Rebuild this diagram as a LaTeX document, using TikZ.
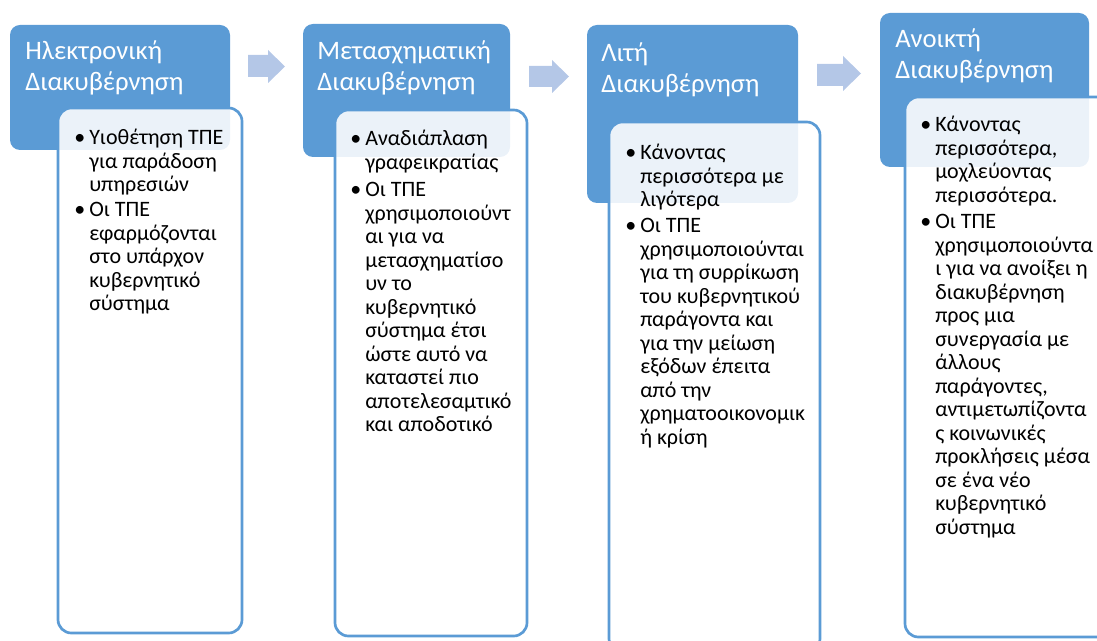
\documentclass[tikz,border=0pt]{standalone}
\usepackage{fontspec}
\setmainfont{Carlito}
\usepackage{tikz}
\definecolor{headblue}{RGB}{91,155,213}
\definecolor{arrowblue}{RGB}{180,199,231}
\newcommand{\colines}[1]{\begin{tabular}[t]{@{}l@{}}#1\end{tabular}}
\tikzset{
	headbox/.style={fill=headblue,rounded corners=7.5pt},
	bodybox/.style={draw=headblue,line width=2pt,fill=white,fill opacity=0.88,rounded corners=10pt},
	headtext/.style={anchor=base west,inner sep=0pt,text=white,font=\fontsize{20}{23}\selectfont},
	bodytext/.style={anchor=base west,inner sep=0pt,font=\fontsize{16.5}{17.6}\selectfont},
	bul/.style={anchor=base west,inner sep=0pt,font=\fontsize{16.5}{17.6}\selectfont},
	blockarrow/.style={fill=arrowblue}
}

\begin{document}
\begin{tikzpicture}[x=0.75pt,y=-0.75pt]
			\useasboundingbox (0,0) rectangle (1097,641);
			\clip (0,0) rectangle (1097,641);
			% headers
			\fill [headbox] (10,25) rectangle (230,150);
			\fill [headbox] (303,24) rectangle (510,157);
			\fill [headbox] (587,25) rectangle (798,203);
			\fill [headbox] (880,13) rectangle (1089,167);
			% block arrows
			\fill [blockarrow] (248,55)-- (268,55)-- (268,50)-- (285,66.5)-- (268,83)-- (268,77)-- (248,77)-- cycle;
			\fill [blockarrow] (529,66)-- (552,66)-- (552,60)-- (569,76.5)-- (552,93)-- (552,87)-- (529,87)-- cycle;
			\fill [blockarrow] (817,64)-- (843,64)-- (843,56)-- (861,73.5)-- (843,91)-- (843,86)-- (817,86)-- cycle;
			% bodies
			\draw [bodybox] (58,108) rectangle (242,633);
			\draw [bodybox] (335,110) rectangle (527,636);
			\draw [bodybox] (609,122) rectangle (820,652);
			\draw [bodybox] (905,97) rectangle (1112,637);
			% header texts
			\draw (25,60) node[headtext] (h1) {\colines{Ηλεκτρονική\\Διακυβέρνηση}};
			\draw (317,60) node[headtext] (h2) {\colines{Μετασχηματική\\Διακυβέρνηση}};
			\draw (601,62) node[headtext] (h3) {\colines{Λιτή\\Διακυβέρνηση}};
			\draw (895,48) node[headtext] (h4) {\colines{Ανοικτή\\Διακυβέρνηση}};
			% column 1
			\draw (74,145) node[bul] (b11) {•};
			\draw (89,145) node[bodytext] (t11) {\colines{Υιοθέτηση ΤΠΕ\\για παράδοση\\υπηρεσιών}};
			\draw (74,217) node[bul] (b12) {•};
			\draw (89,217) node[bodytext] (t12) {\colines{Οι ΤΠΕ\\εφαρμόζονται\\στο υπάρχον\\κυβερνητικό\\σύστημα}};
			% column 2
			\draw (350,146) node[bul] (b21) {•};
			\draw (365,146) node[bodytext] (t21) {\colines{Αναδιάπλαση\\γραφεικρατίας}};
			\draw (350,197) node[bul] (b22) {•};
			\draw (365,197) node[bodytext] (t22) {\colines{Οι ΤΠΕ\\χρησιμοποιούντ\\αι για να\\μετασχηματίσο\\υν το\\κυβερνητικό\\σύστημα έτσι\\ώστε αυτό να\\καταστεί πιο\\αποτελεσαμτικό\\και αποδοτικό}};
			% column 3
			\draw (625,160) node[bul] (b31) {•};
			\draw (640,160) node[bodytext] (t31) {\colines{Κάνοντας\\περισσότερα με\\λιγότερα}};
			\draw (625,233) node[bul] (b32) {•};
			\draw (640,233) node[bodytext] (t32) {\colines{Οι ΤΠΕ\\χρησιμοποιούνται\\για τη συρρίκωση\\του κυβερνητικού\\παράγοντα και\\για την μείωση\\εξόδων έπειτα\\από την\\χρηματοοικονομικ\\ή κρίση}};
			% column 4
			\draw (920,132) node[bul] (b41) {•};
			\draw (935,132) node[bodytext] (t41) {\colines{Κάνοντας\\περισσότερα,\\μοχλεύοντας\\περισσότερα.}};
			\draw (920,229) node[bul] (b42) {•};
			\draw (935,229) node[bodytext] (t42) {\colines{Οι ΤΠΕ\\χρησιμοποιούντα\\ι για να ανοίξει η\\διακυβέρνηση\\προς μια\\συνεργασία με\\άλλους\\παράγοντες,\\αντιμετωπίζοντα\\ς κοινωνικές\\προκλήσεις μέσα\\σε ένα νέο\\κυβερνητικό\\σύστημα}};
		\end{tikzpicture}
\end{document}
